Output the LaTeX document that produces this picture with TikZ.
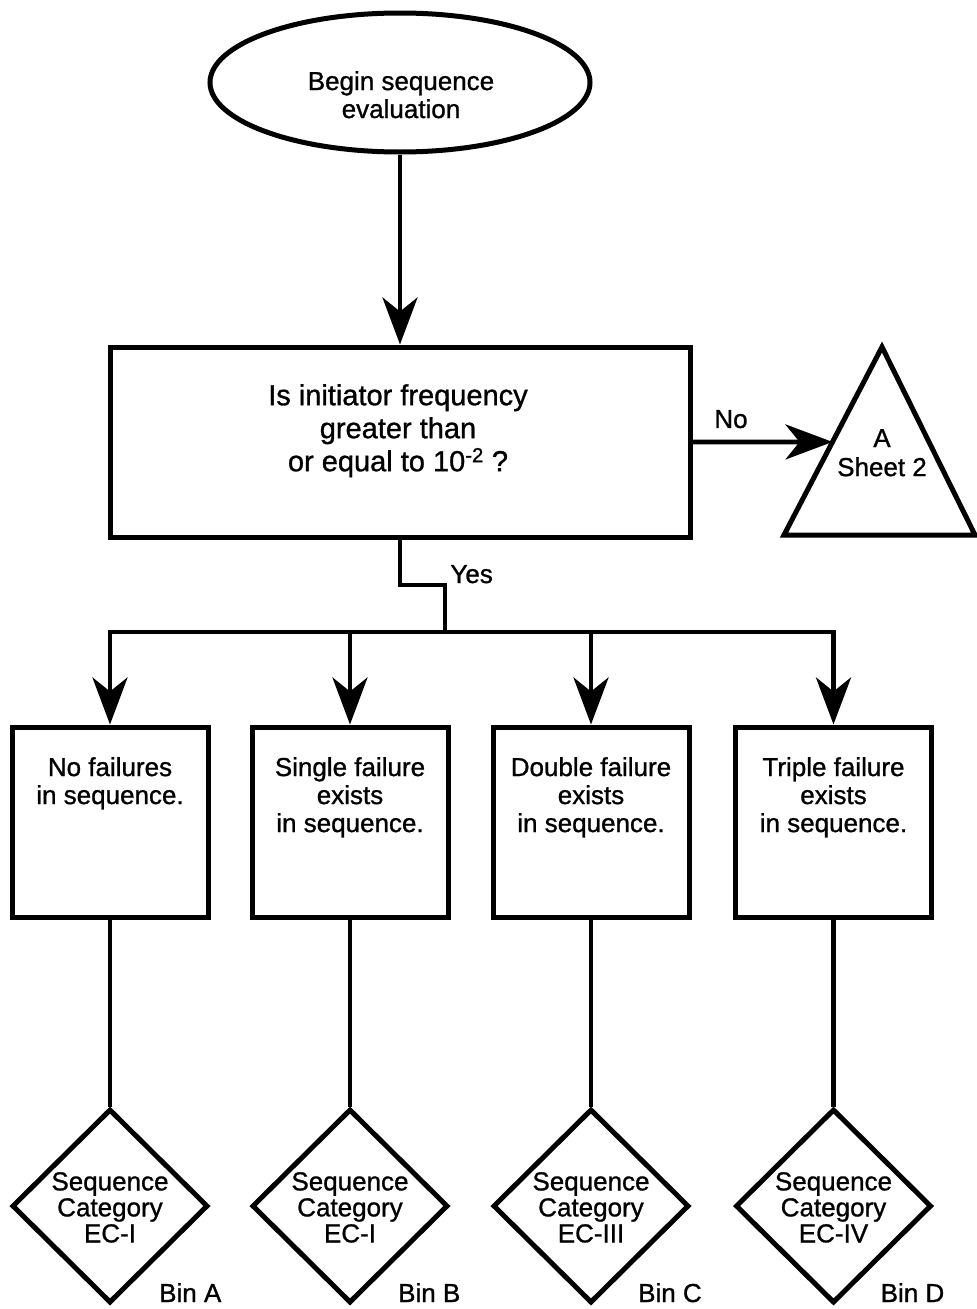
\documentclass[tikz,border=0pt]{standalone}
\usepackage{fontspec}
\setmainfont{Liberation Sans}[FakeBold=1]
\usetikzlibrary{arrows.meta,shapes.geometric,calc}
\tikzset{
  outl/.style={draw, line width=5pt},
  conn/.style={line width=4.8pt},
  arr/.style={conn, -{Stealth[length=47pt,width=35pt,inset=14pt]}},
  lbl/.style={align=center, inner sep=0pt, anchor=north, font=\fontsize{26pt}{28pt}\selectfont},
  boxshape/.style={rectangle, outl, minimum width=196pt, minimum height=190pt, inner sep=0pt},
  dshape/.style={diamond, outl, minimum width=196pt, minimum height=194pt, inner sep=0pt},
  binlbl/.style={anchor=base west, inner sep=0pt, font=\fontsize{26pt}{28pt}\selectfont},
}
\begin{document}
\begin{tikzpicture}[x=1pt,y=-1pt]
\useasboundingbox (0,0) rectangle (977,1309);
% start ellipse
\node[ellipse, outl, minimum width=380pt, minimum height=139pt, inner sep=0pt] (e) at (400,82.5) {};
\node[lbl] (et) at (401,71) {Begin sequence\\evaluation};
% question box
\node[rectangle, outl, minimum width=580pt, minimum height=190pt, inner sep=0pt] (q) at (400,442) {};
\node[lbl, font=\fontsize{29pt}{33pt}\selectfont] (qt) at (398,384) {Is initiator frequency\\greater than\\or equal to 10\textsuperscript{-2} ?};
% off-page triangle
\coordinate (tA) at (882,347);
\coordinate (tL) at (784,535);
\coordinate (tR) at (975,535);
\draw[outl] (tA) -- (tL) -- (tR) -- cycle;
\coordinate (triL) at ($(tA)!0.505!(tL)$);
\node[lbl, font=\fontsize{26pt}{29pt}\selectfont] (tt) at (882,429) {A\\Sheet 2};
% outcome boxes
\node[boxshape] (b1) at (110,822) {};
\node[boxshape] (b2) at (350,822) {};
\node[boxshape] (b3) at (591,822) {};
\node[boxshape] (b4) at (833.5,822) {};
\node[lbl] (bt1) at (110,757) {No failures\\in sequence.};
\node[lbl] (bt2) at (350,757) {Single failure\\exists\\in sequence.};
\node[lbl] (bt3) at (591,757) {Double failure\\exists\\in sequence.};
\node[lbl] (bt4) at (833.5,757) {Triple failure\\exists\\in sequence.};
% category diamonds
\node[dshape] (d1) at (110,1206) {};
\node[dshape] (d2) at (350,1206) {};
\node[dshape] (d3) at (591,1206) {};
\node[dshape] (d4) at (833.5,1206) {};
\node[lbl, font=\fontsize{26pt}{26pt}\selectfont] (dt1) at (110,1172) {Sequence\\Category\\EC-I};
\node[lbl, font=\fontsize{26pt}{26pt}\selectfont] (dt2) at (350,1172) {Sequence\\Category\\EC-I};
\node[lbl, font=\fontsize{26pt}{26pt}\selectfont] (dt3) at (591,1172) {Sequence\\Category\\EC-III};
\node[lbl, font=\fontsize{26pt}{26pt}\selectfont] (dt4) at (833.5,1172) {Sequence\\Category\\EC-IV};
\node[binlbl] (bin1) at ($(d1.center)+(49,96)$) {Bin A};
\node[binlbl] (bin2) at ($(d2.center)+(48,96)$) {Bin B};
\node[binlbl] (bin3) at ($(d3.center)+(47,96)$) {Bin C};
\node[binlbl] (bin4) at ($(d4.center)+(47,96)$) {Bin D};
% connectors
\draw[arr] (e) -- (q);
\draw[arr] (q) -- node[pos=0.275, anchor=base, inner sep=0pt, yshift=14pt, font=\fontsize{26pt}{28pt}\selectfont] (nolbl) {No} (triL);
\coordinate (ybend) at (400,585);
\coordinate (busY) at (445,632);
\coordinate (bus1) at (110,632);
\coordinate (bus2) at (350,632);
\coordinate (bus3) at (591,632);
\coordinate (bus4) at (833.5,632);
\draw[conn] (q) -- (ybend) -| node[pos=0.5, anchor=base west, inner sep=0pt, xshift=3pt, yshift=2pt, font=\fontsize{26pt}{28pt}\selectfont] (yeslbl) {Yes} (busY);
\draw[arr] (busY) -- (bus1) -- (b1);
\draw[arr] (busY) -- (bus4) -- (b4);
\draw[arr] (bus2) -- (b2);
\draw[arr] (bus3) -- (b3);
\draw[conn] (b1) -- (d1);
\draw[conn] (b2) -- (d2);
\draw[conn] (b3) -- (d3);
\draw[conn] (b4) -- (d4);
\end{tikzpicture}
\end{document}
